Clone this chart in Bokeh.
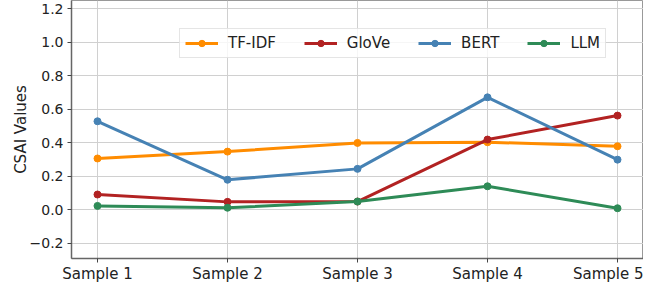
from bokeh.plotting import figure
from bokeh.models import FixedTicker, CustomJSTickFormatter, Range1d, Legend, LegendItem, Title
from bokeh.embed import file_html
from bokeh.resources import INLINE

samples = ["Sample 1", "Sample 2", "Sample 3", "Sample 4", "Sample 5"]
tfidf = [0.307, 0.348, 0.400, 0.404, 0.380]
glove = [0.092, 0.048, 0.050, 0.420, 0.563]
bert = [0.529, 0.180, 0.245, 0.672, 0.300]
llm = [0.024, 0.013, 0.050, 0.141, 0.010]
y_ticks = [-0.2, 0.0, 0.2, 0.4, 0.6, 0.8, 1.0, 1.2]

x = list(range(len(samples)))

FONT = "DejaVu Sans"
FS = "15px"

p = figure(width=643, height=285, output_backend="svg", toolbar_location=None,
           x_range=Range1d(-0.2, 4.2), y_range=Range1d(-0.29, 1.25),
           min_border_left=0, min_border_right=0, min_border_top=0, min_border_bottom=0)
p.background_fill_color = "white"
p.border_fill_color = "white"
p.outline_line_color = "#999999"
p.outline_line_width = 1

for ax in (p.xaxis, p.yaxis):
    ax.axis_line_color = "#666666"
    ax.axis_line_width = 1.5
    ax.major_tick_line_color = "#444444"
    ax.major_tick_out = 4
    ax.major_tick_in = 0
    ax.minor_tick_line_color = None
    ax.major_label_text_font = FONT
    ax.major_label_text_color = "#222222"

p.xaxis.major_label_text_font_size = FS
p.yaxis.major_label_text_font_size = "14px"

p.xaxis.ticker = FixedTicker(ticks=x)
p.xaxis.major_label_overrides = {i: s for i, s in zip(x, samples)}
p.xaxis.major_label_standoff = 2
p.yaxis.ticker = FixedTicker(ticks=y_ticks)
p.yaxis.formatter = CustomJSTickFormatter(code="""
const v = Math.round(tick*10)/10;
return v < 0 ? "\u2212" + (-v).toFixed(1) : v.toFixed(1);
""")
p.yaxis.major_label_standoff = 4
p.yaxis.axis_label = "CSAI Values"
p.yaxis.axis_label_text_font = FONT
p.yaxis.axis_label_text_font_size = FS
p.yaxis.axis_label_text_font_style = "normal"
p.yaxis.axis_label_text_color = "#222222"
p.yaxis.axis_label_standoff = -3

pad = Title(text=" ", text_font_size="6px", standoff=0, offset=0)
p.add_layout(pad, "left")

p.xgrid.grid_line_color = "#d0d0d0"
p.ygrid.grid_line_color = "#d0d0d0"
p.xgrid.grid_line_width = 1
p.ygrid.grid_line_width = 1

series = [("TF-IDF", tfidf, "#ff8c00"), ("GloVe", glove, "#b22222"),
          ("BERT", bert, "#4682b4"), ("LLM", llm, "#2e8b57")]
items = []
for name, ys, col in series:
    r1 = p.line(x, ys, line_color=col, line_width=3)
    r2 = p.scatter(x, ys, size=7, fill_color=col, line_color=col)
    items.append(LegendItem(label=name, renderers=[r1, r2]))

legend = Legend(items=items, orientation="horizontal", location=(108, 200),
                label_text_font=FONT, label_text_font_size=FS, label_text_color="#222222",
                glyph_width=33, glyph_height=16, label_standoff=10, spacing=28,
                padding=5, margin=0, border_line_color="#cccccc", border_line_width=1,
                background_fill_color="white", background_fill_alpha=0.8,
                label_height=16)
p.add_layout(legend, "center")

open("out.html", "w").write(file_html(p, INLINE))
